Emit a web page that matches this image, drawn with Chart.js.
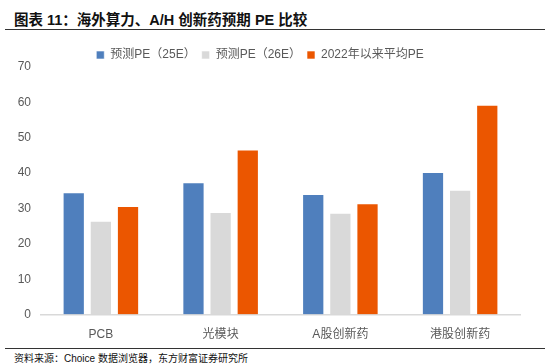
<!DOCTYPE html>
<html>
<head>
<meta charset="utf-8">
<script src="https://cdn.jsdelivr.net/npm/chart.js@4"></script>
<style>
  body { margin: 0; background: #fff; width: 550px; height: 364px; position: relative; overflow: hidden; font-family: "Liberation Sans", "Noto Sans CJK SC", sans-serif; }
  #title { position: absolute; left: 14px; top: 8px; font-size: 14.5px; font-weight: bold; color: #111; }
  #topline { position: absolute; left: 5px; right: 5px; top: 29px; border-top: 1.5px solid #333; }
  #chartbox { position: absolute; left: 0; top: 43px; width: 550px; height: 312px; }
  #botline { position: absolute; left: 5px; right: 5px; top: 348px; border-top: 1.2px solid #333; background: #fff; height: 16px; }
  #source { position: absolute; left: 14px; top: 350px; font-size: 10px; color: #111; }
</style>
</head>
<body>
<div id="title">图表 11：海外算力、A/H 创新药预期 PE 比较</div>
<div id="topline"></div>
<div id="chartbox"><canvas id="chart"></canvas></div>
<div id="botline"></div>
<div id="source">资料来源：Choice 数据浏览器，东方财富证券研究所</div>
<script>
var categories = ['PCB', '光模块', 'A股创新药', '港股创新药'];
var seriesNames = ['预测PE（25E）', '预测PE（26E）', '2022年以来平均PE'];
var pe25 = [34.6, 37.4, 34.1, 40.3];
var pe26 = [26.5, 29.0, 28.8, 35.3];
var peAvg = [30.7, 46.7, 31.5, 59.3];
var colors = ['#4f7fbd', '#d9d9d9', '#eb5600'];

var tickColor = '#595959';
var fontFamily = '"Liberation Sans", "Noto Sans CJK SC", sans-serif';

// fix the legend block height so the plot top lands where the reference has it
var legendHeight = {
  id: 'legendHeight',
  beforeInit: function(chart) {
    var origFit = chart.legend.fit;
    chart.legend.fit = function() {
      origFit.bind(chart.legend)();
      this.height = 24;
    };
  }
};

var myChart = new Chart(document.getElementById('chart').getContext('2d'), {
  type: 'bar',
  data: {
    labels: categories,
    datasets: [pe25, pe26, peAvg].map(function(d, i) {
      return {
        label: seriesNames[i],
        data: d,
        backgroundColor: colors[i],
        borderColor: 'rgba(255,255,255,0.6)',
        borderWidth: 1,
        categoryPercentage: 0.68,
        barPercentage: 0.82
      };
    })
  },
  plugins: [legendHeight],
  options: {
    responsive: true,
    maintainAspectRatio: false,
    animation: false,
    layout: { padding: { left: 0, right: 30, top: 0, bottom: 0 } },
    plugins: {
      tooltip: { enabled: false },
      legend: {
        position: 'top',
        labels: {
          boxWidth: 8,
          boxHeight: 8,
          padding: 6,
          color: tickColor,
          font: { family: fontFamily, size: 12 }
        }
      }
    },
    scales: {
      x: {
        grid: { display: false, drawTicks: false },
        border: { color: '#d9d9d9', width: 1.5 },
        ticks: { color: tickColor, padding: 13, font: { family: fontFamily, size: 12 } }
      },
      y: {
        min: 0,
        max: 70,
        grid: { display: false, drawTicks: false },
        border: { display: false },
        ticks: { stepSize: 10, color: tickColor, padding: 10, font: { family: fontFamily, size: 12 } },
        afterFit: function(scale) { scale.width = 41; }
      }
    }
  }
});
</script>
</body>
</html>
